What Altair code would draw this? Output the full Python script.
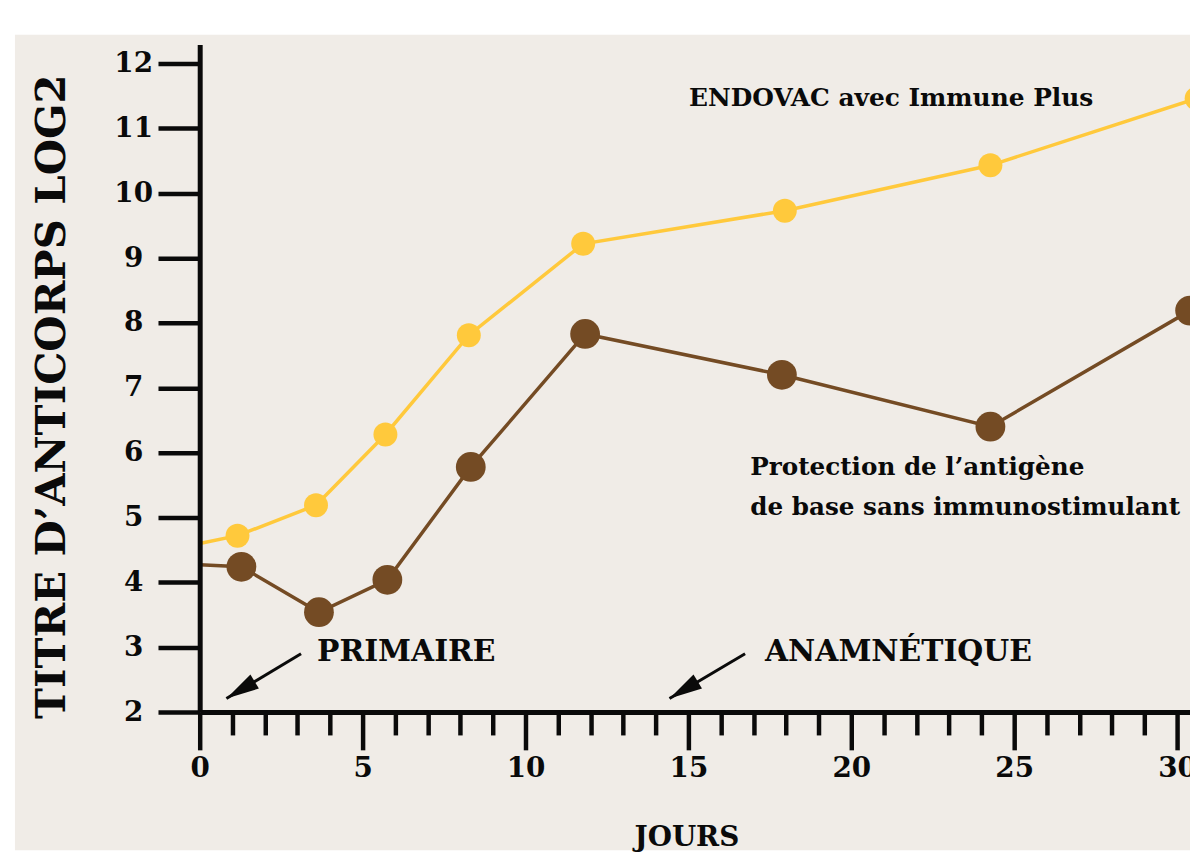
import altair as alt
import pandas as pd

# ---- data ----
days_yellow = [0, 1.16, 3.57, 5.70, 8.26, 11.77, 17.96, 24.27, 30.6]
vals_yellow = [4.60, 4.72, 5.19, 6.28, 7.81, 9.22, 9.73, 10.43, 11.46]
days_brown = [0, 1.28, 3.66, 5.76, 8.32, 11.83, 17.87, 24.27, 30.4]
vals_brown = [4.27, 4.24, 3.54, 4.04, 5.78, 7.83, 7.20, 6.40, 8.19]

label_texts = ["ENDOVAC avec Immune Plus", "Protection de l’antigène",
               "de base sans immunostimulant", "PRIMAIRE", "ANAMNÉTIQUE"]
label_days = [15.02, 16.9, 16.9, 3.6, 17.35]
label_vals = [11.47, 5.76, 5.15, 2.93, 2.93]
label_sizes = [25, 24.8, 24.8, 30, 30]

arrow_tail_days = [3.11, 16.74]
arrow_tail_vals = [2.90, 2.90]
arrow_tip_days = [0.82, 14.42]
arrow_tip_vals = [2.21, 2.21]

YELLOW = "#FFC93C"
BROWN = "#744B24"
INK = "#0a0a0a"
BG = "#F0ECE7"
FONT = "DejaVu Serif"

W, H = 997, 672
XMAX = W / 32.8
YMAX = 2 + H / 65.3

series = pd.DataFrame(
    {"day": days_yellow + days_brown,
     "val": vals_yellow + vals_brown,
     "serie": ["ENDOVAC"] * len(days_yellow) + ["Base"] * len(days_brown)}
)
labels = pd.DataFrame({"day": label_days, "val": label_vals,
                       "txt": label_texts, "fs": label_sizes})
tips = pd.DataFrame({"day": arrow_tip_days, "val": arrow_tip_vals})

x_enc = alt.X(
    "day:Q",
    scale=alt.Scale(domain=[0, XMAX], nice=False, zero=False),
    axis=alt.Axis(
        values=list(range(0, 31)),
        labelExpr="datum.value % 5 === 0 ? datum.label : ''",
        tickSize={"condition": {"test": "datum.value % 5 === 0", "value": 38}, "value": 23},
        tickWidth=4.5, tickColor=INK,
        domainWidth=5, domainColor=INK,
        labelFont=FONT, labelFontWeight="bold", labelFontSize=28, labelColor=INK,
        labelPadding=19, labelBaseline="middle", labelFlush=False, labelOverlap=False,
        title="JOURS", titleFont=FONT, titleFontWeight="bold", titleFontSize=28,
        titleColor=INK, titleX=490, titleY=126, titleAlign="center",
        titleBaseline="middle", grid=False, zindex=1,
    ),
)
y_enc = alt.Y(
    "val:Q",
    scale=alt.Scale(domain=[2, YMAX], nice=False, zero=False),
    axis=alt.Axis(
        values=list(range(2, 13)),
        tickSize=42, tickWidth=4.5, tickColor=INK,
        domainWidth=5, domainColor=INK,
        labelFont=FONT, labelFontWeight="bold", labelFontSize=28, labelColor=INK,
        labelAlign="center", labelBaseline="middle", labelPadding=25,
        labelFlush=False, labelOverlap=False,
        title="TITRE D’ANTICORPS LOG2", titleFont=FONT, titleFontWeight="bold",
        titleFontSize=42, titleColor=INK, titleAngle=270, titleX=-149, titleY=354,
        titleAlign="center", titleBaseline="middle", grid=False, zindex=1,
    ),
)

bg = alt.Chart(pd.DataFrame({"a": [0]})).mark_rect(color=BG).encode(
    x=alt.value(-186), x2=alt.value(W), y=alt.value(-10), y2=alt.value(H + 139)
)

brown_df = series[series.serie == "Base"]
yellow_df = series[series.serie == "ENDOVAC"]

def line_layer(df, color):
    return alt.Chart(df).mark_line(color=color, strokeWidth=3.5, clip=True).encode(x=x_enc, y=y_enc)

def point_layer(df, color, size):
    return alt.Chart(df[df.day > 0]).mark_point(
        shape="circle", filled=True, opacity=1, color=color, size=size, clip=True
    ).encode(x=x_enc, y=y_enc)

text_layer = alt.Chart(labels).mark_text(
    align="left", baseline="middle", font=FONT, fontWeight="bold", color=INK
).encode(x=x_enc, y=y_enc, text="txt:N", size=alt.Size("fs:Q", scale=None, legend=None))

shafts = []
for i in range(len(arrow_tip_days)):
    seg = pd.DataFrame({"day": [arrow_tail_days[i], arrow_tip_days[i]],
                        "val": [arrow_tail_vals[i], arrow_tip_vals[i]]})
    shafts.append(alt.Chart(seg).mark_line(color=INK, strokeWidth=3).encode(x=x_enc, y=y_enc))

heads = alt.Chart(tips).mark_point(
    shape="M0,0L0.5,2L-0.5,2Z", filled=True, opacity=1, color=INK,
    size=1100, angle=239, strokeWidth=0
).encode(x=x_enc, y=y_enc)

chart = alt.layer(
    bg,
    line_layer(brown_df, BROWN),
    point_layer(brown_df, BROWN, 900),
    line_layer(yellow_df, YELLOW),
    point_layer(yellow_df, YELLOW, 580),
    text_layer,
    *shafts,
    heads,
).properties(
    width=W, height=H,
    autosize=alt.AutoSizeParams(type="none"),
    padding={"left": 193, "top": 34, "right": 0, "bottom": 139},
    background="white",
).configure_view(stroke=None)

chart.save("out.html", embed_options={"renderer": "svg", "actions": False})
